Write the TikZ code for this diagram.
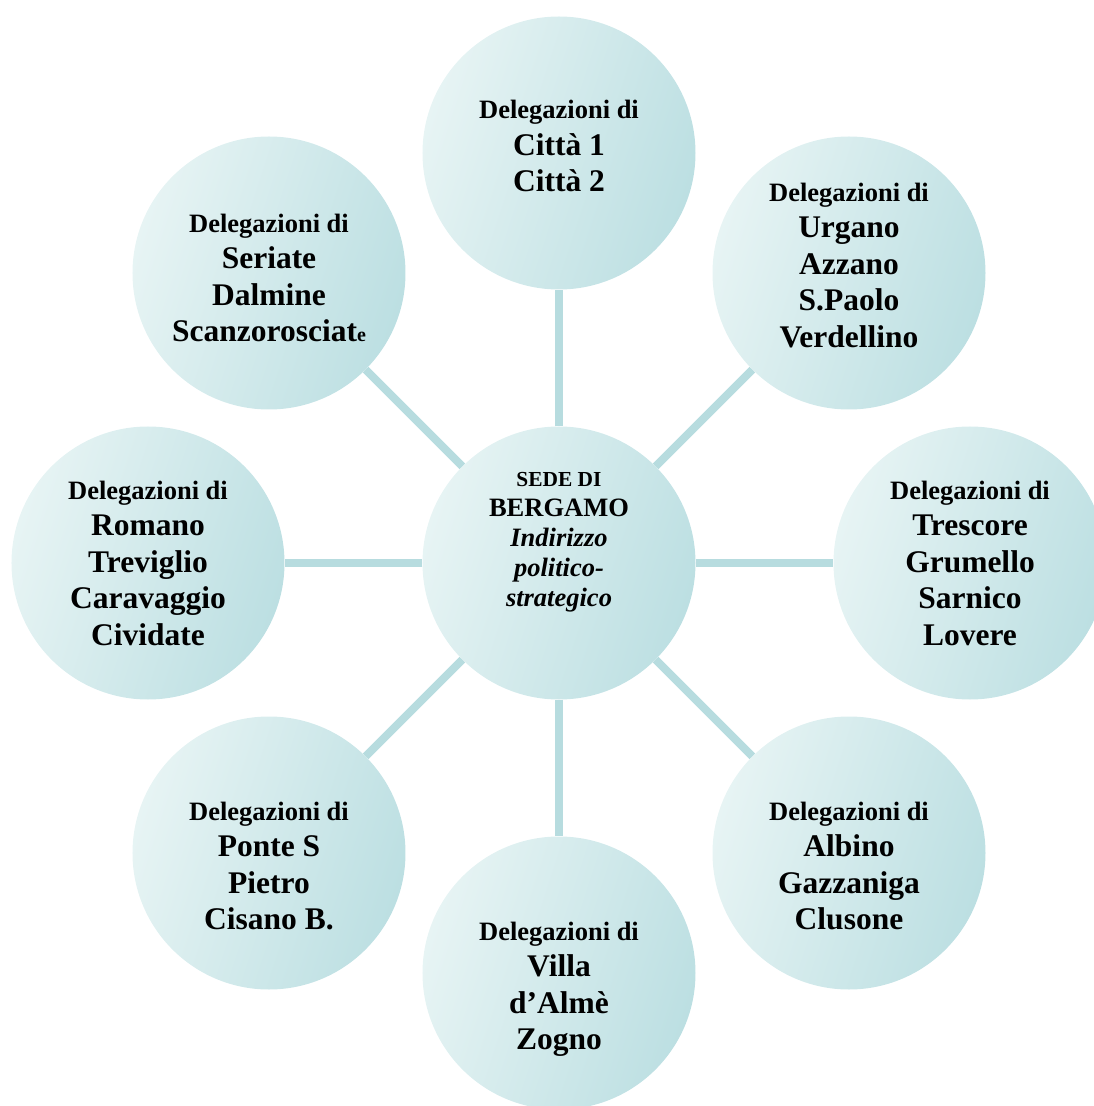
\documentclass[tikz,border=0pt]{standalone}
\usepackage{fontspec}
\setmainfont{Liberation Serif}

\definecolor{bollaChiaro}{HTML}{E7F4F4}
\definecolor{bollaScuro}{HTML}{BCDFE2}
\definecolor{coloreRaggio}{HTML}{B7DCDF}

\newcommand{\deleg}{{\fontsize{26.5}{36.5}\selectfont Delegazioni di}}

\tikzset{
  bolla/.style={circle, minimum size=273pt, inner sep=0pt,
    left color=bollaChiaro, right color=bollaScuro, shading angle=72},
  scritta/.style={align=center, inner sep=0pt,
    font=\bfseries\fontsize{31.5}{36.5}\selectfont},
  raggio/.style={draw=coloreRaggio, line width=8pt}
}

\begin{document}
\begin{tikzpicture}[x=1pt,y=1pt]
\useasboundingbox (-559,-543) rectangle (534,563);

\node[bolla] at (0,0) (sede) {};
\node[bolla] at (0,410) (citta) {};
\node[bolla] at (290,290) (urgano) {};
\node[bolla] at (411,0) (trescore) {};
\node[bolla] at (290,-290) (albino) {};
\node[bolla] at (0,-410) (villa) {};
\node[bolla] at (-290,-290) (ponte) {};
\node[bolla] at (-411,0) (romano) {};
\node[bolla] at (-290,290) (seriate) {};

\draw[raggio] (sede) -- (citta);
\draw[raggio] (sede) -- (urgano);
\draw[raggio] (sede) -- (trescore);
\draw[raggio] (sede) -- (albino);
\draw[raggio] (sede) -- (villa);
\draw[raggio] (sede) -- (ponte);
\draw[raggio] (sede) -- (romano);
\draw[raggio] (sede) -- (seriate);

\node[scritta, font=\bfseries\fontsize{26.5}{30}\selectfont]
  at ([yshift=21]sede.center) (sede-testo)
  {{\fontsize{21.4}{30}\selectfont SEDE DI}\\BERGAMO\\
   \textit{Indirizzo}\\\textit{politico-}\\\textit{strategico}};
\node[scritta] at ([yshift=7]citta.center) (citta-testo)
  {\deleg\\Città 1\\Città 2};
\node[scritta] at ([yshift=7.5]urgano.center) (urgano-testo)
  {\deleg\\Urgano\\Azzano\\S.Paolo\\Verdellino};
\node[scritta] at (trescore.center) (trescore-testo)
  {\deleg\\Trescore\\Grumello\\Sarnico\\Lovere};
\node[scritta] at ([yshift=-13]albino.center) (albino-testo)
  {\deleg\\Albino\\Gazzaniga\\Clusone};
\node[scritta] at ([yshift=-16.5]villa.center) (villa-testo)
  {\deleg\\Villa\\d’Almè\\Zogno};
\node[scritta] at ([yshift=-13]ponte.center) (ponte-testo)
  {\deleg\\Ponte S\\Pietro\\Cisano B.};
\node[scritta] at (romano.center) (romano-testo)
  {\deleg\\Romano\\Treviglio\\Caravaggio\\Cividate};
\node[scritta] at ([yshift=-5]seriate.center) (seriate-testo)
  {\deleg\\Seriate\\Dalmine\\Scanzorosciat{\fontsize{20}{36.5}\selectfont e}};
\end{tikzpicture}
\end{document}
